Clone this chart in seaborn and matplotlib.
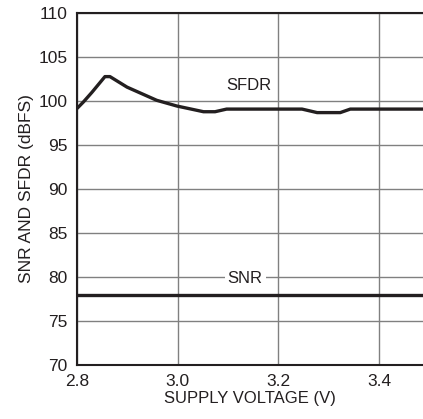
import matplotlib
matplotlib.use("Agg")
import matplotlib.pyplot as plt
import seaborn as sns
import pandas as pd

# data
sfdr_v = [2.80, 2.812, 2.829, 2.855, 2.865, 2.899, 2.958, 2.998, 3.051, 3.074,
          3.097, 3.247, 3.277, 3.323, 3.343, 3.49]
sfdr_db = [99.2, 99.9, 101.0, 102.8, 102.8, 101.6, 100.1, 99.45, 98.8, 98.8,
           99.1, 99.1, 98.7, 98.7, 99.1, 99.1]
snr_v = [2.80, 3.49]
snr_db = [77.9, 77.9]

df_sfdr = pd.DataFrame({"v": sfdr_v, "db": sfdr_db})
df_snr = pd.DataFrame({"v": snr_v, "db": snr_db})

sns.set_style("white")
plt.rcParams['font.family'] = ['Liberation Sans', 'DejaVu Sans']

ink = "#231f20"
fig = plt.figure(figsize=(4.23, 4.19), dpi=100)
ax = fig.add_axes([0.1827, 0.130, 0.8173, 0.838])

sns.lineplot(data=df_sfdr, x="v", y="db", ax=ax, color=ink, lw=2.4,
             sort=False, estimator=None)
sns.lineplot(data=df_snr, x="v", y="db", ax=ax, color=ink, lw=2.4,
             sort=False, estimator=None)

ax.set_xlim(2.8, 3.4876)
ax.set_ylim(70, 110)
ax.set_xticks([2.8, 3.0, 3.2, 3.4])
ax.set_xticklabels(["2.8", "3.0", "3.2", "3.4"])
ax.set_yticks(range(70, 111, 5))
ax.grid(True, color="#808080", lw=1.0)
ax.set_axisbelow(True)
ax.tick_params(axis="x", length=0, labelsize=12.5, colors=ink, pad=7)
ax.tick_params(axis="y", length=0, labelsize=12.5, colors=ink, pad=7)

for s in ["left", "bottom", "top"]:
    ax.spines[s].set_color(ink)
    ax.spines[s].set_linewidth(1.5)
ax.spines["right"].set_visible(False)

ax.set_xlabel("SUPPLY VOLTAGE (V)", fontsize=12, color=ink, labelpad=1)
ax.set_ylabel("SNR AND SFDR (dBFS)", fontsize=12.5, color=ink, labelpad=3)

ax.text(3.142, 101.8, "SFDR", fontsize=12, ha="center", va="center", color=ink)
ax.text(3.134, 79.8, "SNR", fontsize=12, ha="center", va="center", color=ink,
        bbox=dict(facecolor="white", edgecolor="none", pad=2))

fig.savefig("out.png", dpi=100)
